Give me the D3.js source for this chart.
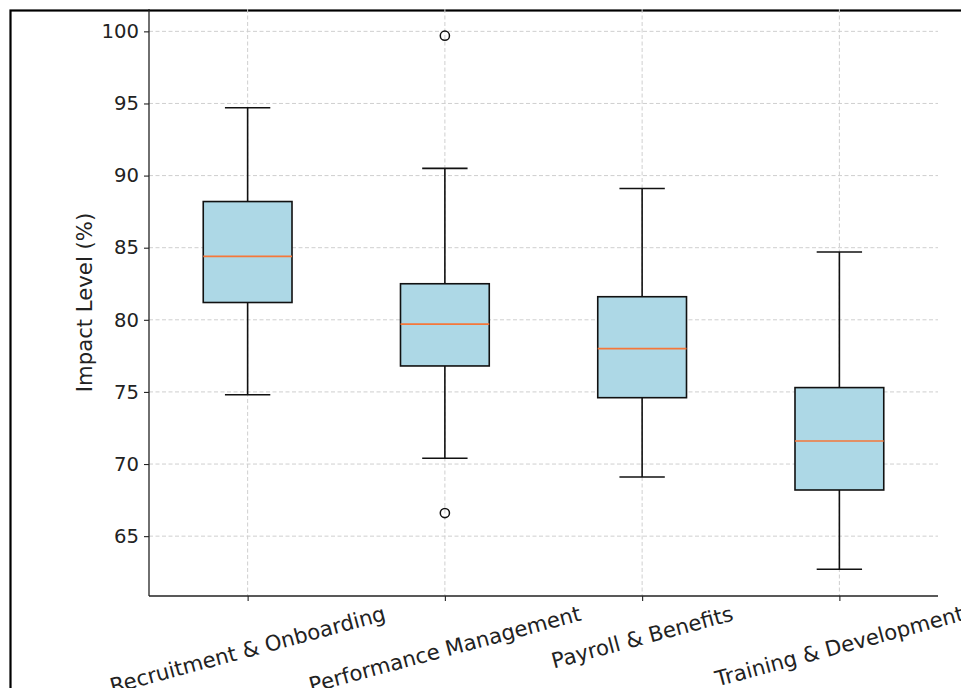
<!DOCTYPE html>
<html>
<head>
<meta charset="utf-8">
<script src="https://cdn.jsdelivr.net/npm/d3@7"></script>
<style>
  body { margin: 0; background: #fff; }
  svg { display: block; font-family: "DejaVu Sans", sans-serif; }
</style>
</head>
<body>
<div id="chart"></div>
<script>
// box statistics
const categories = ["Recruitment & Onboarding", "Performance Management", "Payroll & Benefits", "Training & Development"];
const whiskerLow = [74.8, 70.4, 69.1, 62.7];
const q1 = [81.2, 76.8, 74.6, 68.2];
const median = [84.4, 79.7, 78.0, 71.6];
const q3 = [88.2, 82.5, 81.6, 75.3];
const whiskerHigh = [94.7, 90.5, 89.1, 84.7];
const outliers = [[], [99.7, 66.6], [], []];
const yTicks = [65, 70, 75, 80, 85, 90, 95, 100];

const W = 961, H = 688;
let margin = {top: 9, right: 23, bottom: 92, left: 149},
    width = W - margin.left - margin.right,
    height = H - margin.top - margin.bottom;

let svg = d3.select("#chart")
    .append("svg")
    .attr("width", W)
    .attr("height", H);

// figure border (cropped on right and bottom)
svg.append("rect")
    .attr("x", 10.5).attr("y", 10.5)
    .attr("width", 1200).attr("height", 1200)
    .attr("fill", "none")
    .attr("stroke", "#000")
    .attr("stroke-width", 2.2);

let g = svg.append("g")
    .attr("transform", "translate(" + margin.left + "," + margin.top + ")");

// scales (matplotlib style 5% padding on y)
let lo = d3.min([d3.min(whiskerLow), d3.min(outliers.flat())]);
let hi = d3.max([d3.max(whiskerHigh), d3.max(outliers.flat())]);
let pad = (hi - lo) * 0.05;
var y = d3.scaleLinear().domain([lo - pad, hi + pad]).range([height, 0]);
var x = d3.scalePoint().domain(categories).range([0, width]).padding(0.5);
let step = x.step();

// grid
g.append("g").selectAll("line").data(yTicks).join("line")
    .attr("x1", 0).attr("x2", width)
    .attr("y1", d => y(d)).attr("y2", d => y(d))
    .attr("stroke", "#cfcfcf").attr("stroke-width", 1)
    .attr("stroke-dasharray", "4,2.5");
g.append("g").selectAll("line").data(categories).join("line")
    .attr("x1", d => x(d)).attr("x2", d => x(d))
    .attr("y1", 0).attr("y2", height)
    .attr("stroke", "#cfcfcf").attr("stroke-width", 1)
    .attr("stroke-dasharray", "4,2.5");

// boxes
let boxW = step * 0.45, capW = step * 0.23;
categories.forEach(function(c, i) {
    let cx = x(c);
    let bg = g.append("g");
    bg.append("line")
        .attr("x1", cx).attr("x2", cx)
        .attr("y1", y(whiskerLow[i])).attr("y2", y(q1[i]))
        .attr("stroke", "#111").attr("stroke-width", 1.6);
    bg.append("line")
        .attr("x1", cx).attr("x2", cx)
        .attr("y1", y(q3[i])).attr("y2", y(whiskerHigh[i]))
        .attr("stroke", "#111").attr("stroke-width", 1.6);
    [whiskerLow[i], whiskerHigh[i]].forEach(function(v) {
        bg.append("line")
            .attr("x1", cx - capW / 2).attr("x2", cx + capW / 2)
            .attr("y1", y(v)).attr("y2", y(v))
            .attr("stroke", "#111").attr("stroke-width", 1.6);
    });
    bg.append("rect")
        .attr("x", cx - boxW / 2).attr("width", boxW)
        .attr("y", y(q3[i])).attr("height", y(q1[i]) - y(q3[i]))
        .attr("fill", "#add8e6")
        .attr("stroke", "#111").attr("stroke-width", 1.6);
    bg.append("line")
        .attr("x1", cx - boxW / 2).attr("x2", cx + boxW / 2)
        .attr("y1", y(median[i])).attr("y2", y(median[i]))
        .attr("stroke", "#f5773a").attr("stroke-width", 1.6);
    bg.selectAll("circle").data(outliers[i]).join("circle")
        .attr("cx", cx).attr("cy", d => y(d)).attr("r", 4.6)
        .attr("fill", "none").attr("stroke", "#111").attr("stroke-width", 1.5);
});

// y axis
let yAxis = g.append("g")
    .call(d3.axisLeft(y).tickValues(yTicks).tickSize(5).tickPadding(5));
yAxis.select(".domain").attr("stroke", "#222").attr("stroke-width", 1.3)
    .attr("d", "M0,0V" + height);
yAxis.selectAll(".tick line").attr("stroke", "#222").attr("stroke-width", 1.1);
yAxis.selectAll("text").attr("font-size", "19.6px").attr("fill", "#222")
    .attr("font-family", "DejaVu Sans");

// x axis
let xAxis = g.append("g")
    .attr("transform", "translate(0," + height + ")")
    .call(d3.axisBottom(x).tickSize(5).tickFormat(""));
xAxis.select(".domain").attr("stroke", "#222").attr("stroke-width", 1.3)
    .attr("d", "M0,0H" + width);
xAxis.selectAll(".tick line").attr("stroke", "#222").attr("stroke-width", 1.1);

// rotated x labels, centred like matplotlib (ha=center, rotation=15)
let rot = 15 * Math.PI / 180;
let fs = 21.2;
categories.forEach(function(c) {
    let t = g.append("text")
        .attr("font-size", fs + "px")
        .attr("fill", "#222")
        .attr("text-anchor", "middle")
        .attr("dominant-baseline", "central")
        .text(c);
    let w = t.node().getComputedTextLength();
    let h = fs * 1.16;
    let bh = w * Math.sin(rot) + h * Math.cos(rot);
    let cy = height + 5 + bh / 2;
    t.attr("transform", "translate(" + x(c) + "," + cy + ") rotate(-15)");
});

// y label
g.append("text")
    .attr("transform", "translate(" + (-57) + "," + (height / 2) + ") rotate(-90)")
    .attr("text-anchor", "middle")
    .attr("font-size", "21.2px")
    .attr("fill", "#222")
    .text("Impact Level (%)");
</script>
</body>
</html>
